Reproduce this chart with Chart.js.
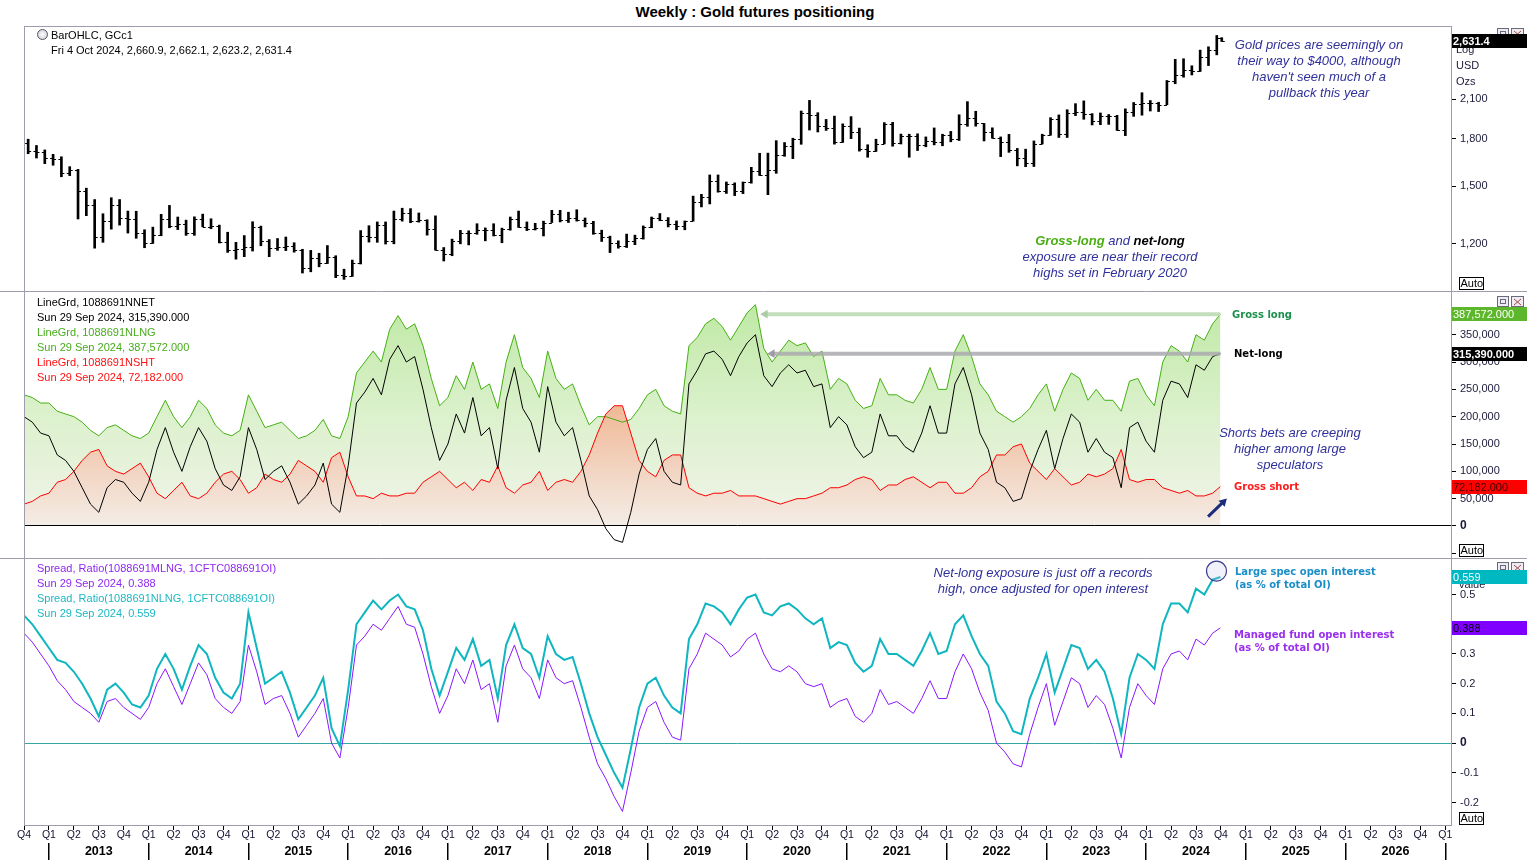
<!DOCTYPE html>
<html><head><meta charset="utf-8">
<script src="https://cdn.jsdelivr.net/npm/chart.js@4.4.1/dist/chart.umd.min.js"></script>
<style>
html,body{margin:0;padding:0;background:#fff;}
#wrap{position:relative;width:1527px;height:860px;overflow:hidden;font-family:"Liberation Sans",Arial,sans-serif;background:#fff;}
canvas{position:absolute;left:0;}
.t{position:absolute;white-space:nowrap;font-size:11px;line-height:14px;}
.ann{position:absolute;text-align:center;font-style:italic;font-size:13px;line-height:16px;color:#30309c;white-space:nowrap;transform:translateX(-50%);}
.lbl{position:absolute;font-family:"DejaVu Sans",Verdana,sans-serif;font-weight:bold;font-size:10px;line-height:13px;white-space:nowrap;}
</style></head>
<body><div id="wrap">
<canvas id="cA" width="1527" height="265" style="top:26px"></canvas>
<canvas id="cB" width="1527" height="267" style="top:291px"></canvas>
<canvas id="cC" width="1527" height="302" style="top:558px"></canvas>

<div style="position:absolute;left:0;top:3px;width:1510px;text-align:center;font-weight:bold;font-size:15px;line-height:18px;">Weekly : Gold futures positioning</div>

<div style="position:absolute;left:37px;top:29px;width:9px;height:9px;border:1px solid #556;border-radius:50%;background:radial-gradient(#fff,#c8c8d0);"></div>
<div class="t" style="left:51px;top:28px;color:#000;">BarOHLC, GCc1</div>
<div class="t" style="left:51px;top:43px;color:#000;">Fri 4 Oct 2024, 2,660.9, 2,662.1, 2,623.2, 2,631.4</div>

<div class="t" style="left:37px;top:295px;color:#000;">LineGrd, 1088691NNET</div>
<div class="t" style="left:37px;top:310px;color:#000;">Sun 29 Sep 2024, 315,390.000</div>
<div class="t" style="left:37px;top:325px;color:#48ad1c;">LineGrd, 1088691NLNG</div>
<div class="t" style="left:37px;top:340px;color:#48ad1c;">Sun 29 Sep 2024, 387,572.000</div>
<div class="t" style="left:37px;top:355px;color:#ff1010;">LineGrd, 1088691NSHT</div>
<div class="t" style="left:37px;top:370px;color:#ff1010;">Sun 29 Sep 2024, 72,182.000</div>

<div class="t" style="left:37px;top:561px;color:#9028f0;">Spread, Ratio(1088691MLNG, 1CFTC088691OI)</div>
<div class="t" style="left:37px;top:576px;color:#9028f0;">Sun 29 Sep 2024, 0.388</div>
<div class="t" style="left:37px;top:591px;color:#1cb8c4;">Spread, Ratio(1088691NLNG, 1CFTC088691OI)</div>
<div class="t" style="left:37px;top:606px;color:#1cb8c4;">Sun 29 Sep 2024, 0.559</div>

<div class="ann" style="left:1319px;top:37px;">Gold prices are seemingly on<br>their way to $4000, although<br>haven't seen much of a<br>pullback this year</div>
<div class="ann" style="left:1110px;top:233px;"><b style="color:#4aae14;">Gross-long</b> and <b style="color:#000;">net-long</b><br>exposure are near their record<br>highs set in February 2020</div>
<div class="ann" style="left:1290px;top:425px;">Shorts bets are creeping<br>higher among large<br>speculators</div>
<div class="ann" style="left:1043px;top:565px;">Net-long exposure is just off a records<br>high, once adjusted for open interest</div>

<div class="lbl" style="left:1232px;top:308px;color:#1b8f4c;">Gross long</div>
<div class="lbl" style="left:1234px;top:347px;color:#000;">Net-long</div>
<div class="lbl" style="left:1234px;top:480px;color:#ff1a1a;">Gross short</div>
<div class="lbl" style="left:1235px;top:565px;color:#1a8ec8;">Large spec open interest<br>(as % of total OI)</div>
<div class="lbl" style="left:1234px;top:628px;color:#9a30ee;">Managed fund open interest<br>(as % of total OI)</div>
</div>

<script>
// ---------------- DATA ----------------
// Monthly observations from Oct 2012 to Sep 2024, plus the final weekly reading.
const firstMonth = '2012-10-01';
const lastPriceDate = '2024-10-04';
const lastCotDate = '2024-09-29';

// Gold futures (GCc1), monthly OHLC; last entry = week of Fri 4 Oct 2024
const priceOpen = [
 1775,1720,1712,
 1675,1663,1578,1595,1472,1393,1234,1313,1396,1327,1323,1253,
 1202,1240,1321,1284,1296,1250,1322,1282,1287,1210,1171,1175,
 1184,1279,1213,1183,1184,1190,1172,1095,1135,1115,1142,1065,
 1060,1116,1238,1234,1292,1214,1322,1351,1309,1316,1272,1173,
 1152,1211,1253,1249,1268,1268,1242,1269,1322,1280,1271,1275,
 1303,1345,1318,1325,1315,1299,1253,1233,1206,1192,1215,1226,
 1282,1325,1316,1298,1285,1311,1413,1437,1529,1472,1514,1473,
 1523,1589,1566,1596,1694,1751,1800,1986,1978,1895,1879,1780,
 1895,1850,1734,1716,1768,1905,1771,1817,1818,1757,1784,1776,
 1829,1796,1909,1954,1911,1848,1807,1782,1726,1672,1640,1768,
 1826,1945,1836,1986,2000,1982,1929,1970,1966,1866,1996,2057,
 2072,2067,2054,2254,2302,2345,2339,2473,2536,2660.9];
const priceHigh = [
 1798,1755,1725,
 1696,1680,1617,1600,1488,1424,1348,1434,1424,1362,1361,1267,
 1280,1345,1392,1331,1315,1332,1346,1322,1290,1255,1207,1239,
 1307,1285,1220,1225,1232,1205,1175,1170,1157,1192,1146,1088,
 1127,1263,1287,1306,1306,1362,1377,1375,1352,1317,1337,1183,
 1222,1264,1262,1297,1276,1297,1275,1331,1362,1306,1299,1310,
 1366,1366,1356,1369,1326,1309,1265,1236,1214,1246,1241,1286,
 1331,1349,1328,1311,1311,1443,1453,1566,1566,1524,1519,1524,
 1613,1703,1704,1788,1775,1805,2005,2089,1992,1941,1966,1908,
 1962,1877,1760,1798,1917,1919,1834,1833,1836,1814,1878,1833,
 1853,1976,2079,2003,1911,1879,1814,1832,1735,1730,1786,1833,
 1954,1975,2015,2063,2085,1985,1990,1978,1972,2022,2072,2152,
 2088,2074,2256,2448,2454,2388,2537,2570,2685,2662.1];
const priceLow = [
 1700,1672,1636,
 1626,1555,1562,1321,1338,1180,1207,1270,1290,1251,1226,1182,
 1202,1238,1277,1268,1240,1240,1282,1272,1204,1161,1131,1142,
 1167,1191,1142,1170,1169,1162,1072,1077,1098,1112,1053,1046,
 1058,1110,1208,1207,1199,1200,1310,1302,1305,1241,1171,1123,
 1146,1200,1195,1245,1214,1237,1205,1265,1279,1263,1266,1237,
 1303,1306,1303,1310,1281,1245,1211,1160,1180,1183,1196,1222,
 1277,1312,1281,1267,1267,1310,1384,1400,1465,1458,1446,1457,
 1517,1563,1451,1576,1683,1668,1763,1863,1849,1860,1764,1776,
 1802,1717,1677,1715,1766,1750,1765,1677,1721,1746,1759,1753,
 1780,1789,1890,1891,1786,1805,1681,1709,1622,1617,1618,1765,
 1826,1810,1810,1970,1942,1900,1902,1904,1860,1823,1964,1973,
 2005,2001,2054,2228,2285,2305,2336,2390,2491,2623.2];
const priceClose = [
 1720,1712,1675,
 1663,1578,1595,1472,1393,1234,1313,1396,1327,1323,1253,1202,
 1240,1321,1284,1296,1250,1322,1282,1287,1210,1171,1175,1184,
 1279,1213,1183,1184,1190,1172,1095,1135,1115,1142,1065,1060,
 1116,1238,1234,1292,1214,1322,1351,1309,1316,1272,1173,1152,
 1211,1253,1249,1268,1268,1242,1269,1322,1280,1271,1275,1303,
 1345,1318,1325,1315,1299,1253,1233,1206,1192,1215,1226,1282,
 1325,1316,1298,1285,1311,1413,1437,1529,1472,1514,1473,1523,
 1589,1566,1596,1694,1751,1800,1986,1978,1895,1879,1780,1895,
 1850,1734,1716,1768,1905,1771,1817,1818,1757,1784,1776,1829,
 1796,1909,1954,1911,1848,1807,1782,1726,1672,1640,1768,1826,
 1945,1836,1986,2000,1982,1929,1970,1966,1866,1996,2057,2072,
 2067,2054,2254,2302,2345,2339,2473,2536,2660,2631.4];

// Large speculator positioning (thousands of contracts)
const grossLong = [
 240,235,225,
 225,210,205,200,190,175,165,180,185,175,165,160,
 170,200,230,200,180,200,230,215,185,170,165,175,
 240,210,180,185,190,175,160,165,175,195,165,160,
 200,280,300,320,300,360,385,360,370,330,270,220,
 235,275,250,300,250,260,215,300,350,290,270,235,
 320,270,250,260,220,185,200,200,195,190,195,215,
 240,250,220,210,205,330,345,370,380,365,340,365,
 390,405,325,300,320,340,330,335,310,320,250,270,
 260,230,215,220,270,240,240,230,225,250,290,250,
 250,320,350,310,260,240,210,200,190,200,215,240,
 260,210,250,280,270,230,250,230,230,210,265,270,
 240,220,300,330,320,300,350,340,370,387.572];
const grossShort = [
 40,45,55,
 60,80,85,100,120,135,140,110,100,95,105,115,
 90,60,50,65,80,55,50,60,80,95,100,85,
 60,70,95,85,80,95,120,110,100,80,125,135,
 90,55,55,50,60,55,55,60,60,80,90,100,
 85,70,80,65,85,80,110,70,60,75,80,100,
 65,80,85,80,100,130,170,205,220,220,170,120,
 100,90,120,130,130,70,60,55,60,60,65,55,
 55,55,50,45,40,45,50,50,55,60,70,70,
 75,85,90,85,65,75,75,85,90,80,70,80,
 80,60,60,70,90,100,130,130,145,150,115,100,
 85,105,90,75,80,95,90,95,105,140,85,80,
 85,85,70,65,60,65,55,55,60,72.182];
const netLong = [
 200,190,170,
 165,130,120,100,70,40,25,70,85,80,60,45,
 80,140,180,135,100,145,180,155,105,75,65,90,
 180,140,85,100,110,80,40,55,75,115,40,25,
 110,225,245,270,240,305,330,300,310,250,180,120,
 150,205,170,235,165,180,105,230,290,215,190,135,
 255,190,165,180,120,55,30,-5,-25,-30,25,95,
 140,160,100,80,75,260,285,315,320,305,275,310,
 335,350,275,255,280,295,280,285,255,260,180,200,
 185,145,125,135,205,165,165,145,135,170,220,170,
 170,260,290,240,170,140,80,70,45,50,100,140,
 175,105,160,205,190,135,160,135,125,70,180,190,
 155,135,230,265,260,235,295,285,310,315.390];

// Long positions as a share of total open interest
const largeSpecRatio = [
 0.43,0.40,0.36,
 0.32,0.28,0.27,0.24,0.20,0.15,0.09,0.18,0.20,0.17,0.13,0.12,
 0.16,0.25,0.30,0.25,0.18,0.26,0.33,0.30,0.22,0.17,0.15,0.20,
 0.44,0.32,0.20,0.22,0.24,0.17,0.08,0.12,0.16,0.22,0.05,-0.01,
 0.18,0.40,0.44,0.48,0.45,0.48,0.50,0.46,0.45,0.38,0.25,0.16,
 0.24,0.32,0.28,0.35,0.26,0.28,0.15,0.33,0.40,0.32,0.30,0.22,
 0.36,0.30,0.28,0.29,0.20,0.10,0.02,-0.04,-0.10,-0.15,-0.02,0.12,
 0.20,0.22,0.16,0.12,0.10,0.35,0.40,0.47,0.46,0.44,0.40,0.45,
 0.49,0.50,0.44,0.43,0.46,0.47,0.45,0.42,0.40,0.42,0.32,0.34,
 0.33,0.27,0.24,0.26,0.35,0.30,0.30,0.28,0.26,0.31,0.37,0.30,
 0.31,0.40,0.43,0.36,0.30,0.26,0.14,0.10,0.04,0.03,0.15,0.22,
 0.30,0.17,0.25,0.33,0.32,0.25,0.28,0.24,0.15,0.03,0.22,0.30,
 0.28,0.25,0.40,0.47,0.47,0.44,0.52,0.50,0.55,0.559];
const managedFundRatio = [
 0.37,0.34,0.30,
 0.26,0.21,0.18,0.14,0.12,0.10,0.07,0.14,0.15,0.12,0.10,0.08,
 0.12,0.20,0.25,0.19,0.13,0.20,0.27,0.23,0.15,0.12,0.10,0.14,
 0.33,0.24,0.13,0.15,0.16,0.10,0.02,0.06,0.10,0.15,0.00,-0.05,
 0.12,0.33,0.36,0.40,0.38,0.42,0.46,0.40,0.39,0.30,0.19,0.10,
 0.16,0.25,0.20,0.28,0.18,0.20,0.07,0.26,0.33,0.25,0.22,0.15,
 0.28,0.22,0.20,0.21,0.12,0.02,-0.07,-0.12,-0.18,-0.23,-0.10,0.04,
 0.12,0.14,0.07,0.02,0.01,0.25,0.30,0.37,0.35,0.33,0.29,0.31,
 0.35,0.37,0.30,0.25,0.24,0.26,0.24,0.20,0.19,0.20,0.12,0.14,
 0.15,0.09,0.07,0.10,0.18,0.13,0.14,0.12,0.10,0.15,0.21,0.15,
 0.15,0.24,0.30,0.25,0.17,0.11,0.00,-0.03,-0.07,-0.08,0.03,0.12,
 0.20,0.06,0.14,0.22,0.20,0.12,0.16,0.13,0.05,-0.05,0.12,0.20,
 0.16,0.13,0.25,0.30,0.31,0.28,0.35,0.33,0.37,0.388];

// Axis ticks / labels
const priceTicks = [1200, 1500, 1800, 2100];
const positionTicks = [-50, 0, 50, 100, 150, 200, 250, 300, 350];
const ratioTicks = [-0.2, -0.1, 0, 0.1, 0.2, 0.3, 0.5];
const quarterNames = ['Q1', 'Q2', 'Q3', 'Q4'];
const yearLabels = ['2013','2014','2015','2016','2017','2018','2019','2020','2021','2022','2023','2024','2025','2026'];
const axisStart = '2012-10-01', axisEnd = '2027-01-22';

// Annotation anchors (date, value)
const grossRecordFrom = '2020-03-06';
const netRecordFrom = '2020-04-01';
const shortArrow = [['2024-08-15', 17], ['2024-10-10', 44]];
const oiCircle = ['2024-09-15', 0.579];

// ---------------- HELPERS ----------------
function decYear(s) {
  const [y, m, d] = s.split('-').map(Number);
  const dim = new Date(y, m, 0).getDate();
  return y + (m - 1) / 12 + (d - 1) / (dim * 12);
}
const X_MIN = decYear(axisStart), X_MAX = decYear(axisEnd);
const N_MONTHS = 144;
const start = decYear(firstMonth);
const cotX = grossLong.map((_, i) => i < N_MONTHS ? start + i / 12 : decYear(lastCotDate));
const priceX = priceClose.map((_, i) => i < N_MONTHS ? start + (i + 0.5) / 12 : decYear(lastPriceDate));
const pts = (xs, ys) => ys.map((v, i) => ({ x: xs[i], y: v }));
const last = a => a[a.length - 1];
const quarterTicks = [];
for (let q = X_MIN; q <= X_MAX + 1e-9; q += 0.25) quarterTicks.push(Math.round(q * 4) / 4);

const FONT = '"Liberation Sans", Arial, sans-serif';
Chart.defaults.font.family = FONT;
Chart.defaults.font.size = 11;
Chart.defaults.color = '#1a1a3a';

function fitY(s) { s.width = 76; s.paddingTop = 0; s.paddingBottom = 0; }
function hiddenX() {
  return { type: 'linear', min: X_MIN, max: X_MAX, display: false, offset: false, bounds: 'data' };
}

function vGrad(stops, vTop, vBot) {
  return ctx => {
    const chart = ctx.chart;
    if (!chart.chartArea) return 'rgba(0,0,0,0)';
    const y = chart.scales.y;
    const g = chart.ctx.createLinearGradient(0, y.getPixelForValue(vTop), 0, y.getPixelForValue(vBot));
    stops.forEach(([o, c]) => g.addColorStop(o, c));
    return g;
  };
}

function decor(cfg) {
  return {
    id: 'decor',
    afterDraw(chart) {
      const { ctx, chartArea: a, scales } = chart;
      const W = chart.width;
      ctx.save();
      ctx.strokeStyle = '#9d9dab'; ctx.lineWidth = 1;
      ctx.beginPath();
      ctx.moveTo(cfg.fullTop ? 0 : a.left, a.top + 0.5);
      ctx.lineTo(cfg.fullTop ? W : a.right + 1, a.top + 0.5);
      ctx.moveTo(a.left + 0.5, a.top); ctx.lineTo(a.left + 0.5, a.bottom);
      ctx.moveTo(a.right + 0.5, a.top); ctx.lineTo(a.right + 0.5, a.bottom);
      if (cfg.bottomLine) { ctx.moveTo(a.left, a.bottom - 0.5); ctx.lineTo(a.right + 1, a.bottom - 0.5); }
      ctx.stroke();
      // window icons
      const iy = a.top + cfg.iconDy;
      ctx.lineWidth = 1;
      ctx.fillStyle = '#ececf2'; ctx.strokeStyle = '#6a6a7a';
      ctx.fillRect(1497.5, iy + 0.5, 11, 10); ctx.strokeRect(1497.5, iy + 0.5, 11, 10);
      ctx.strokeRect(1500.5, iy + 3.5, 5, 4);
      ctx.fillRect(1511.5, iy + 0.5, 12, 10); ctx.strokeRect(1511.5, iy + 0.5, 12, 10);
      ctx.strokeStyle = '#a04848';
      ctx.beginPath(); ctx.moveTo(1514, iy + 3); ctx.lineTo(1521, iy + 9); ctx.moveTo(1521, iy + 3); ctx.lineTo(1514, iy + 9); ctx.stroke();
      // axis texts
      ctx.font = '11px ' + FONT; ctx.fillStyle = '#1a1a3a'; ctx.textBaseline = 'middle'; ctx.textAlign = 'left';
      (cfg.axisTexts || []).forEach(t => ctx.fillText(t.text, a.right + t.dx, a.top + t.dy));
      // value boxes
      (cfg.boxes || []).forEach(b => {
        const y = Math.round(scales.y.getPixelForValue(b.v));
        ctx.fillStyle = b.bg; ctx.fillRect(a.right + 1, y - 7, W - a.right - 1, 14);
        ctx.fillStyle = b.fg; ctx.font = (b.bold ? 'bold ' : '') + '11px ' + FONT;
        ctx.fillText(b.text, a.right + 2, y + 0.5);
      });
      // Auto box
      ctx.font = '11px ' + FONT;
      ctx.fillStyle = '#fff'; ctx.fillRect(a.right + 8, a.bottom - 14, 25, 13);
      ctx.strokeStyle = '#000'; ctx.strokeRect(a.right + 8.5, a.bottom - 13.5, 24, 12);
      ctx.fillStyle = '#000'; ctx.fillText('Auto', a.right + 9.5, a.bottom - 7);
      ctx.restore();
    }
  };
}

const ohlcTicks = {
  id: 'ohlcTicks',
  afterDatasetsDraw(chart) {
    const { ctx, scales: { x, y } } = chart;
    ctx.save(); ctx.strokeStyle = '#000'; ctx.lineWidth = 1;
    ctx.beginPath();
    priceX.forEach((t, i) => {
      const px = x.getPixelForValue(t);
      const yo = Math.round(y.getPixelForValue(priceOpen[i])) + 0.5;
      const yc = Math.round(y.getPixelForValue(priceClose[i])) + 0.5;
      ctx.moveTo(px - 3, yo); ctx.lineTo(px, yo);
      ctx.moveTo(px, yc); ctx.lineTo(px + 3, yc);
    });
    ctx.stroke(); ctx.restore();
  }
};

const commonOpts = {
  responsive: false, animation: false, events: [],
  layout: { autoPadding: false, padding: { left: 24, right: 0, top: 0, bottom: 0 } },
  elements: { line: { tension: 0 }, point: { radius: 0 } }
};

// ---------------- TOP: PRICE ----------------
new Chart(document.getElementById('cA'), {
  type: 'bar',
  data: {
    datasets: [{
      data: priceX.map((t, i) => ({ x: t, y: [priceLow[i], priceHigh[i]] })),
      backgroundColor: '#000', borderWidth: 0, barThickness: 2, grouped: false
    }]
  },
  options: Object.assign({}, commonOpts, {
    plugins: { legend: { display: false }, tooltip: { enabled: false } },
    scales: {
      x: hiddenX(),
      y: {
        type: 'logarithmic', position: 'right', min: 1000, max: 2785, bounds: 'data',
        afterBuildTicks: s => { s.ticks = priceTicks.map(v => ({ value: v })); },
        afterFit: fitY,
        grid: { drawOnChartArea: false, tickLength: 5, tickColor: '#000' },
        border: { display: false },
        ticks: { padding: 4, callback: v => Number(v).toLocaleString('en-US') }
      }
    }
  }),
  plugins: [ohlcTicks, decor({
    fullTop: false, iconDy: 2,
    axisTexts: [{ text: 'Log', dx: 5, dy: 24 }, { text: 'USD', dx: 5, dy: 40 }, { text: 'Ozs', dx: 5, dy: 56 }],
    boxes: [{ v: last(priceClose), text: last(priceClose).toLocaleString('en-US', { minimumFractionDigits: 1 }), bg: '#000', fg: '#fff', bold: true }]
  })]
});

// ---------------- MIDDLE: POSITIONS ----------------
const fmtK = v => (v * 1000).toLocaleString('en-US', { minimumFractionDigits: 3, maximumFractionDigits: 3 });
new Chart(document.getElementById('cB'), {
  type: 'line',
  data: {
    datasets: [
      { data: shortArrow.map(([d, v]) => ({ x: decYear(d), y: v })), borderColor: '#1e2c7c', borderWidth: 3,
        pointRadius: [0, 5], pointStyle: 'triangle', pointRotation: 45, pointBackgroundColor: '#1e2c7c', pointBorderWidth: 0, order: 0 },
      { data: [{ x: decYear(netRecordFrom), y: last(netLong) }, { x: last(cotX), y: last(netLong) }],
        borderColor: 'rgba(170,170,175,0.85)', borderWidth: 4, pointRadius: [5, 0], pointStyle: 'triangle', pointRotation: -90,
        pointBackgroundColor: 'rgba(150,150,155,0.9)', pointBorderWidth: 0, order: 1 },
      { data: [{ x: decYear(grossRecordFrom), y: last(grossLong) }, { x: last(cotX), y: last(grossLong) }],
        borderColor: 'rgba(190,218,182,0.9)', borderWidth: 4, pointRadius: [5, 0], pointStyle: 'triangle', pointRotation: -90,
        pointBackgroundColor: 'rgba(165,200,160,0.9)', pointBorderWidth: 0, order: 1 },
      { data: pts(cotX, netLong), borderColor: '#000', borderWidth: 1, fill: false, order: 2 },
      { data: pts(cotX, grossShort), borderColor: '#ff0000', borderWidth: 1, fill: 'origin', order: 3,
        backgroundColor: vGrad([[0, '#f0b896'], [1, '#f4ede7']], 220, 0) },
      { data: pts(cotX, grossLong), borderColor: '#44b012', borderWidth: 1, fill: 'origin', order: 4,
        backgroundColor: vGrad([[0, '#c0e9a6'], [0.5, '#dcf1cd'], [1, '#f1f4ea']], 400, 0) }
    ]
  },
  options: Object.assign({}, commonOpts, {
    plugins: { legend: { display: false }, tooltip: { enabled: false }, filler: { drawTime: 'beforeDatasetsDraw' } },
    scales: {
      x: hiddenX(),
      y: {
        type: 'linear', position: 'right', min: -58.6, max: 430, bounds: 'data',
        afterBuildTicks: s => { s.ticks = positionTicks.map(v => ({ value: v })); },
        afterFit: fitY,
        grid: { z: 1, drawOnChartArea: true, tickLength: 5, tickColor: '#000',
          color: c => (c.tick && c.tick.value === 0) ? '#000' : 'rgba(0,0,0,0)' },
        border: { display: false },
        ticks: { padding: 4,
          font: c => (c.tick && c.tick.value === 0) ? { size: 12, weight: 'bold' } : { size: 11 },
          callback: v => v < 0 ? '' : (v * 1000).toLocaleString('en-US') }
      }
    }
  }),
  plugins: [decor({
    fullTop: true, iconDy: 5,
    boxes: [
      { v: last(grossLong), text: fmtK(last(grossLong)), bg: '#5cb82a', fg: '#fff' },
      { v: last(netLong), text: fmtK(last(netLong)), bg: '#000', fg: '#fff', bold: true },
      { v: last(grossShort), text: fmtK(last(grossShort)), bg: '#ff0000', fg: '#3a0000' }
    ]
  })]
});

// ---------------- BOTTOM: RATIOS ----------------
new Chart(document.getElementById('cC'), {
  type: 'line',
  data: {
    datasets: [
      { data: [{ x: decYear(oiCircle[0]), y: oiCircle[1] }], showLine: false, pointRadius: 10, pointStyle: 'circle',
        pointBackgroundColor: 'rgba(190,190,230,0.22)', pointBorderColor: '#3c3c92', pointBorderWidth: 1.2, order: 0 },
      { data: pts(cotX, largeSpecRatio), borderColor: '#0fb6c0', borderWidth: 2, order: 1 },
      { data: pts(cotX, managedFundRatio), borderColor: '#8a16ff', borderWidth: 1, order: 2 }
    ]
  },
  options: Object.assign({}, commonOpts, {
    plugins: { legend: { display: false }, tooltip: { enabled: false } },
    scales: {
      x: {
        type: 'linear', min: X_MIN, max: X_MAX, position: 'bottom', offset: false, bounds: 'data',
        afterBuildTicks: s => { s.ticks = quarterTicks.map(v => ({ value: v })); },
        afterFit: s => { s.height = 17; s.paddingLeft = 0; s.paddingRight = 0; },
        grid: { drawOnChartArea: false, drawTicks: true, tickLength: 4, color: '#000' },
        border: { display: false },
        ticks: { autoSkip: false, maxRotation: 0, padding: -1, color: '#101030', font: { size: 10.5 },
          callback: v => quarterNames[Math.round((v - Math.floor(v)) * 4) % 4] }
      },
      x2: {
        type: 'linear', min: X_MIN, max: X_MAX, position: 'bottom', offset: false, bounds: 'data',
        afterBuildTicks: s => { s.ticks = yearLabels.map(y => ({ value: Number(y) + 0.5 })); },
        afterFit: s => { s.height = 17; s.paddingLeft = 0; s.paddingRight = 0; },
        grid: { drawOnChartArea: false, drawTicks: true, tickLength: 17, offset: true, color: '#000', lineWidth: 1.5 },
        border: { display: false },
        ticks: { autoSkip: false, maxRotation: 0, padding: -16, color: '#000', font: { size: 12.5, weight: 'bold' },
          callback: (v, i) => yearLabels[i] }
      },
      y: {
        type: 'linear', position: 'right', min: -0.279, max: 0.623, bounds: 'data',
        afterBuildTicks: s => { s.ticks = ratioTicks.map(v => ({ value: v })); },
        afterFit: fitY,
        grid: { drawOnChartArea: true, tickLength: 5, tickColor: '#000',
          color: c => (c.tick && c.tick.value === 0) ? '#35a6a6' : 'rgba(0,0,0,0)' },
        border: { display: false },
        ticks: { padding: 4,
          font: c => (c.tick && c.tick.value === 0) ? { size: 12, weight: 'bold' } : { size: 11 },
          callback: v => String(v) }
      }
    }
  }),
  plugins: [decor({
    fullTop: true, bottomLine: true, iconDy: 4,
    axisTexts: [{ text: 'Value', dx: 7, dy: 27 }],
    boxes: [
      { v: last(largeSpecRatio), text: last(largeSpecRatio).toFixed(3), bg: '#00b8c2', fg: '#fff' },
      { v: last(managedFundRatio), text: last(managedFundRatio).toFixed(3), bg: '#8000ff', fg: '#000' }
    ]
  })]
});
</script>
</body></html>
